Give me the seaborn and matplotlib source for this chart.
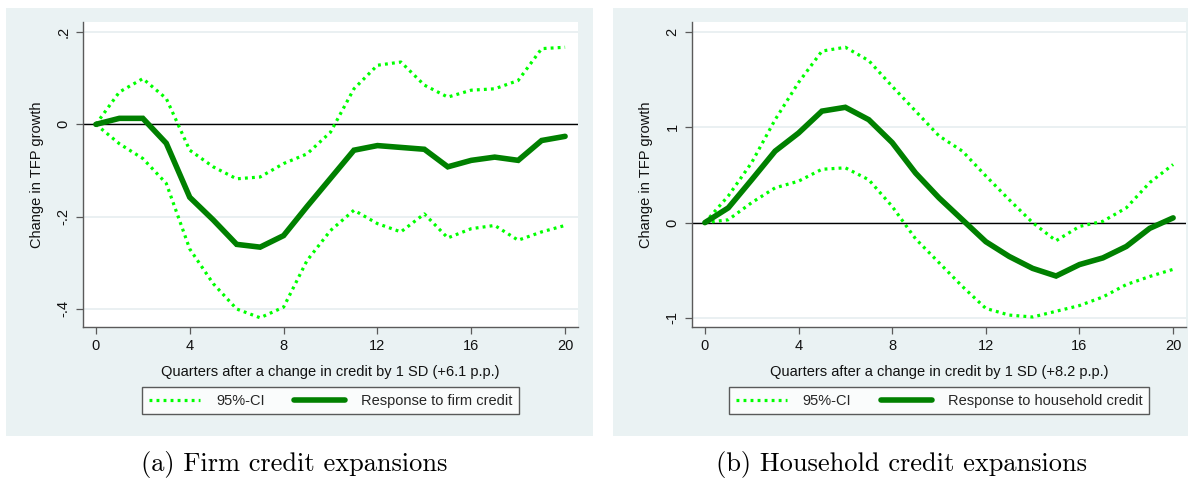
import numpy as np
import pandas as pd
import matplotlib
matplotlib.use("Agg")
import matplotlib.pyplot as plt
from matplotlib.patches import Rectangle
from matplotlib.lines import Line2D
import seaborn as sns

# ---- data -------------------------------------------------------------
quarters = list(range(21))

firm_response = [0.000, 0.013, 0.013, -0.041, -0.158, -0.207, -0.260, -0.266, -0.241,
                 -0.178, -0.117, -0.056, -0.046, -0.050, -0.054, -0.092, -0.078,
                 -0.071, -0.078, -0.035, -0.026]
firm_upper = [0.000, 0.070, 0.099, 0.056, -0.056, -0.092, -0.118, -0.114, -0.085,
              -0.064, -0.017, 0.077, 0.128, 0.135, 0.085, 0.059, 0.074, 0.077,
              0.095, 0.164, 0.167]
firm_lower = [0.000, -0.042, -0.074, -0.128, -0.270, -0.345, -0.400, -0.419, -0.396,
              -0.295, -0.230, -0.186, -0.215, -0.233, -0.194, -0.246, -0.226,
              -0.219, -0.251, -0.233, -0.219]

hh_response = [0.00, 0.155, 0.45, 0.75, 0.94, 1.17, 1.21, 1.08, 0.84, 0.52, 0.26,
               0.03, -0.20, -0.355, -0.48, -0.56, -0.44, -0.37, -0.25, -0.06, 0.05]
hh_upper = [0.00, 0.28, 0.63, 1.08, 1.47, 1.80, 1.84, 1.70, 1.43, 1.17, 0.91, 0.75,
            0.49, 0.24, 0.00, -0.19, -0.04, 0.014, 0.155, 0.42, 0.61]
hh_lower = [0.00, 0.03, 0.21, 0.365, 0.435, 0.56, 0.575, 0.45, 0.17, -0.17, -0.42,
            -0.67, -0.90, -0.97, -0.99, -0.93, -0.87, -0.78, -0.65, -0.565, -0.49]

x_ticks = [0, 4, 8, 12, 16, 20]
firm_y_ticks = [0.2, 0.0, -0.2, -0.4]
firm_y_labels = [".2", "0", "-.2", "-.4"]
hh_y_ticks = [2, 1, 0, -1]
hh_y_labels = ["2", "1", "0", "-1"]

# ---- styling ----------------------------------------------------------
sns.set_theme(style="white")
plt.rcParams["font.family"] = ["Liberation Sans", "DejaVu Sans"]

W, H = 1188, 478
BG = "#EAF2F3"
GRID = "#E6EEF0"
AXIS = "#5A5A5A"
CI_COLOR = "#00FF00"
RESP_COLOR = "#008000"
TXT = "#111111"
LABEL_FS = 10.5

fig = plt.figure(figsize=(W / 100, H / 100), dpi=100)
fig.patch.set_facecolor("white")


def px_rect(x0, y0, x1, y1):
    """Figure-fraction rectangle from pixel corners (top-left origin)."""
    return [x0 / W, 1 - y1 / H, (x1 - x0) / W, (y1 - y0) / H]


# panel backgrounds
for (x0, y0, x1, y1) in [(6, 8, 593, 436), (613, 8, 1188, 436)]:
    r = px_rect(x0, y0, x1, y1)
    fig.patches.append(Rectangle((r[0], r[1]), r[2], r[3], transform=fig.transFigure,
                                 facecolor=BG, edgecolor="none", zorder=-10))

panels = [
    dict(rect=px_rect(83, 22, 578, 327), resp=firm_response, up=firm_upper, lo=firm_lower,
         yticks=firm_y_ticks, ylabels=firm_y_labels, ylim=(-0.439, 0.2217),
         xlabel="Quarters after a change in credit by 1 SD (+6.1 p.p.)",
         legend="Response to firm credit", caption="(a) Firm credit expansions", cx=294),
    dict(rect=px_rect(692, 22, 1186, 327), resp=hh_response, up=hh_upper, lo=hh_lower,
         yticks=hh_y_ticks, ylabels=hh_y_labels, ylim=(-1.095, 2.105),
         xlabel="Quarters after a change in credit by 1 SD (+8.2 p.p.)",
         legend="Response to household credit", caption="(b) Household credit expansions",
         cx=902),
]

for p in panels:
    ax = fig.add_axes(p["rect"])
    ax.set_facecolor("white")
    df = pd.DataFrame({"quarter": quarters, "response": p["resp"],
                       "upper": p["up"], "lower": p["lo"]})

    for col in ("upper", "lower"):
        sns.lineplot(data=df, x="quarter", y=col, ax=ax, color=CI_COLOR, linewidth=2.3,
                     linestyle=(0, (0.9, 1.3)), dash_capstyle="butt", zorder=3)
    sns.lineplot(data=df, x="quarter", y="response", ax=ax, color=RESP_COLOR,
                 linewidth=4.0, solid_joinstyle="miter", zorder=4)

    ax.axhline(0, color="black", linewidth=1.0, zorder=2)

    ax.set_xlim(-0.55, 20.55)
    ax.set_ylim(*p["ylim"])
    ax.set_xticks(x_ticks)
    ax.set_xticklabels([str(t) for t in x_ticks])
    ax.set_yticks(p["yticks"])
    ax.set_yticklabels(p["ylabels"], rotation=90, va="center")
    ax.grid(axis="y", color=GRID, linewidth=1.2, zorder=0)
    ax.set_axisbelow(True)

    for side in ("top", "right"):
        ax.spines[side].set_visible(False)
    for side in ("left", "bottom"):
        ax.spines[side].set_color(AXIS)
        ax.spines[side].set_linewidth(1.0)
    ax.tick_params(axis="both", direction="out", length=5, width=0.9, color=AXIS,
                   labelsize=10.5, labelcolor=TXT, left=True, bottom=True, pad=4)

    ax.set_xlabel(p["xlabel"], fontsize=LABEL_FS, color=TXT, labelpad=8)
    ax.set_ylabel("Change in TFP growth", fontsize=LABEL_FS, color=TXT, labelpad=9)

    handles = [Line2D([], [], color=CI_COLOR, linewidth=2.3, linestyle=(0, (0.9, 1.3))),
               Line2D([], [], color=RESP_COLOR, linewidth=4.0)]
    leg = ax.legend(handles, ["95%-CI", p["legend"]], loc="upper center",
                    bbox_to_anchor=(0.5, -0.197), ncol=2, fontsize=LABEL_FS, frameon=True,
                    fancybox=False, handlelength=3.5, columnspacing=2.0,
                    handletextpad=1.1, borderpad=0.45, borderaxespad=0)
    leg.get_frame().set_edgecolor("#333333")
    leg.get_frame().set_linewidth(1.0)
    leg.get_frame().set_facecolor("white")

    fig.text(p["cx"] / W, 1 - 465 / H, p["caption"], ha="center", va="center",
             fontsize=19, family="cmr10", color="black")

fig.savefig("out.png", dpi=100)
